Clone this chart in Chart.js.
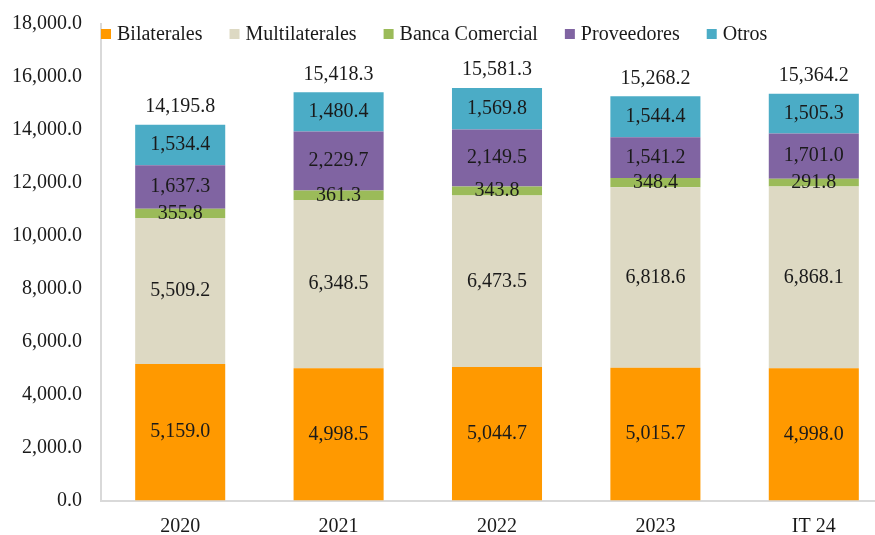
<!DOCTYPE html>
<html>
<head>
<meta charset="utf-8">
<script src="https://cdn.jsdelivr.net/npm/chart.js@4"></script>
<style>
  html, body { margin: 0; padding: 0; overflow: hidden; background: #fff; }
  #wrap { width: 893px; height: 535px; }
</style>
</head>
<body>
<div id="wrap"><canvas id="grafico"></canvas></div>
<script>
const categorias = ['2020', '2021', '2022', '2023', 'IT 24'];
const bilaterales = [5159.0, 4998.5, 5044.7, 5015.7, 4998.0];
const multilaterales = [5509.2, 6348.5, 6473.5, 6818.6, 6868.1];
const bancaComercial = [355.8, 361.3, 343.8, 348.4, 291.8];
const proveedores = [1637.3, 2229.7, 2149.5, 1541.2, 1701.0];
const otros = [1534.4, 1480.4, 1569.8, 1544.4, 1505.3];
const totales = [14195.8, 15418.3, 15581.3, 15268.2, 15364.2];
const ticksY = [0, 2000, 4000, 6000, 8000, 10000, 12000, 14000, 16000, 18000];

const fuente = '"Liberation Serif", "Times New Roman", serif';
const fmt = v => v.toLocaleString('en-US', { minimumFractionDigits: 1, maximumFractionDigits: 1 });

// etiquetas de cada segmento y totales encima
const etiquetas = {
  id: 'etiquetas',
  afterDatasetsDraw(chart) {
    const ctx = chart.ctx;
    ctx.save();
    ctx.font = '20px ' + fuente;
    ctx.fillStyle = '#1a1a1a';
    ctx.textAlign = 'center';
    ctx.textBaseline = 'middle';
    chart.data.datasets.forEach((ds, i) => {
      chart.getDatasetMeta(i).data.forEach((bar, j) => {
        ctx.fillText(fmt(ds.data[j]), bar.x, (bar.y + bar.base) / 2);
      });
    });
    const ultima = chart.getDatasetMeta(chart.data.datasets.length - 1).data;
    ultima.forEach((bar, j) => {
      ctx.fillText(fmt(totales[j]), bar.x, bar.y - 18);
    });
    ctx.restore();
  }
};

// leyenda dentro del area del grafico
const leyenda = {
  id: 'leyenda',
  afterDraw(chart) {
    const ctx = chart.ctx;
    ctx.save();
    ctx.font = '20px ' + fuente;
    ctx.textBaseline = 'alphabetic';
    let x = chart.chartArea.left;
    const y = 40;
    chart.data.datasets.forEach(ds => {
      ctx.fillStyle = ds.backgroundColor;
      ctx.fillRect(x, 29, 10, 10);
      x += 16;
      ctx.fillStyle = '#1a1a1a';
      ctx.fillText(ds.label, x, y);
      x += ctx.measureText(ds.label).width + 27;
    });
    ctx.restore();
  }
};

const ctx = document.getElementById('grafico').getContext('2d');

const grafico = new Chart(ctx, {
  type: 'bar',
  data: {
    labels: categorias,
    datasets: [
      { label: 'Bilaterales', data: bilaterales, backgroundColor: '#FF9900' },
      { label: 'Multilaterales', data: multilaterales, backgroundColor: '#DDD9C3' },
      { label: 'Banca Comercial', data: bancaComercial, backgroundColor: '#9BBB59' },
      { label: 'Proveedores', data: proveedores, backgroundColor: '#8064A2' },
      { label: 'Otros', data: otros, backgroundColor: '#4BACC6' },
    ],
  },
  options: {
    responsive: true,
    maintainAspectRatio: false,
    animation: false,
    categoryPercentage: 1,
    barPercentage: 0.5685,
    layout: { padding: { top: 24, right: 0, left: 0, bottom: 0 } },
    plugins: {
      legend: { display: false },
      tooltip: { enabled: false },
    },
    scales: {
      x: {
        stacked: true,
        grid: { display: false, drawTicks: false },
        border: { color: '#d9d9d9', width: 2 },
        ticks: { color: '#1a1a1a', padding: 14, font: { family: fuente, size: 20 } },
        afterFit(scale) { scale.height = 34.5; },
      },
      y: {
        stacked: true,
        min: 0,
        max: 18000,
        grid: { display: false, drawTicks: false },
        border: { color: '#d9d9d9', width: 2 },
        afterBuildTicks(scale) { scale.ticks = ticksY.map(v => ({ value: v })); },
        ticks: {
          color: '#1a1a1a',
          padding: 19,
          font: { family: fuente, size: 20 },
          callback: v => fmt(v),
        },
        afterFit(scale) {
          scale.width = 101;
          scale.paddingTop = 0;
          scale.paddingBottom = 0;
        },
      },
    },
  },
  plugins: [etiquetas, leyenda],
});
</script>
</body>
</html>
